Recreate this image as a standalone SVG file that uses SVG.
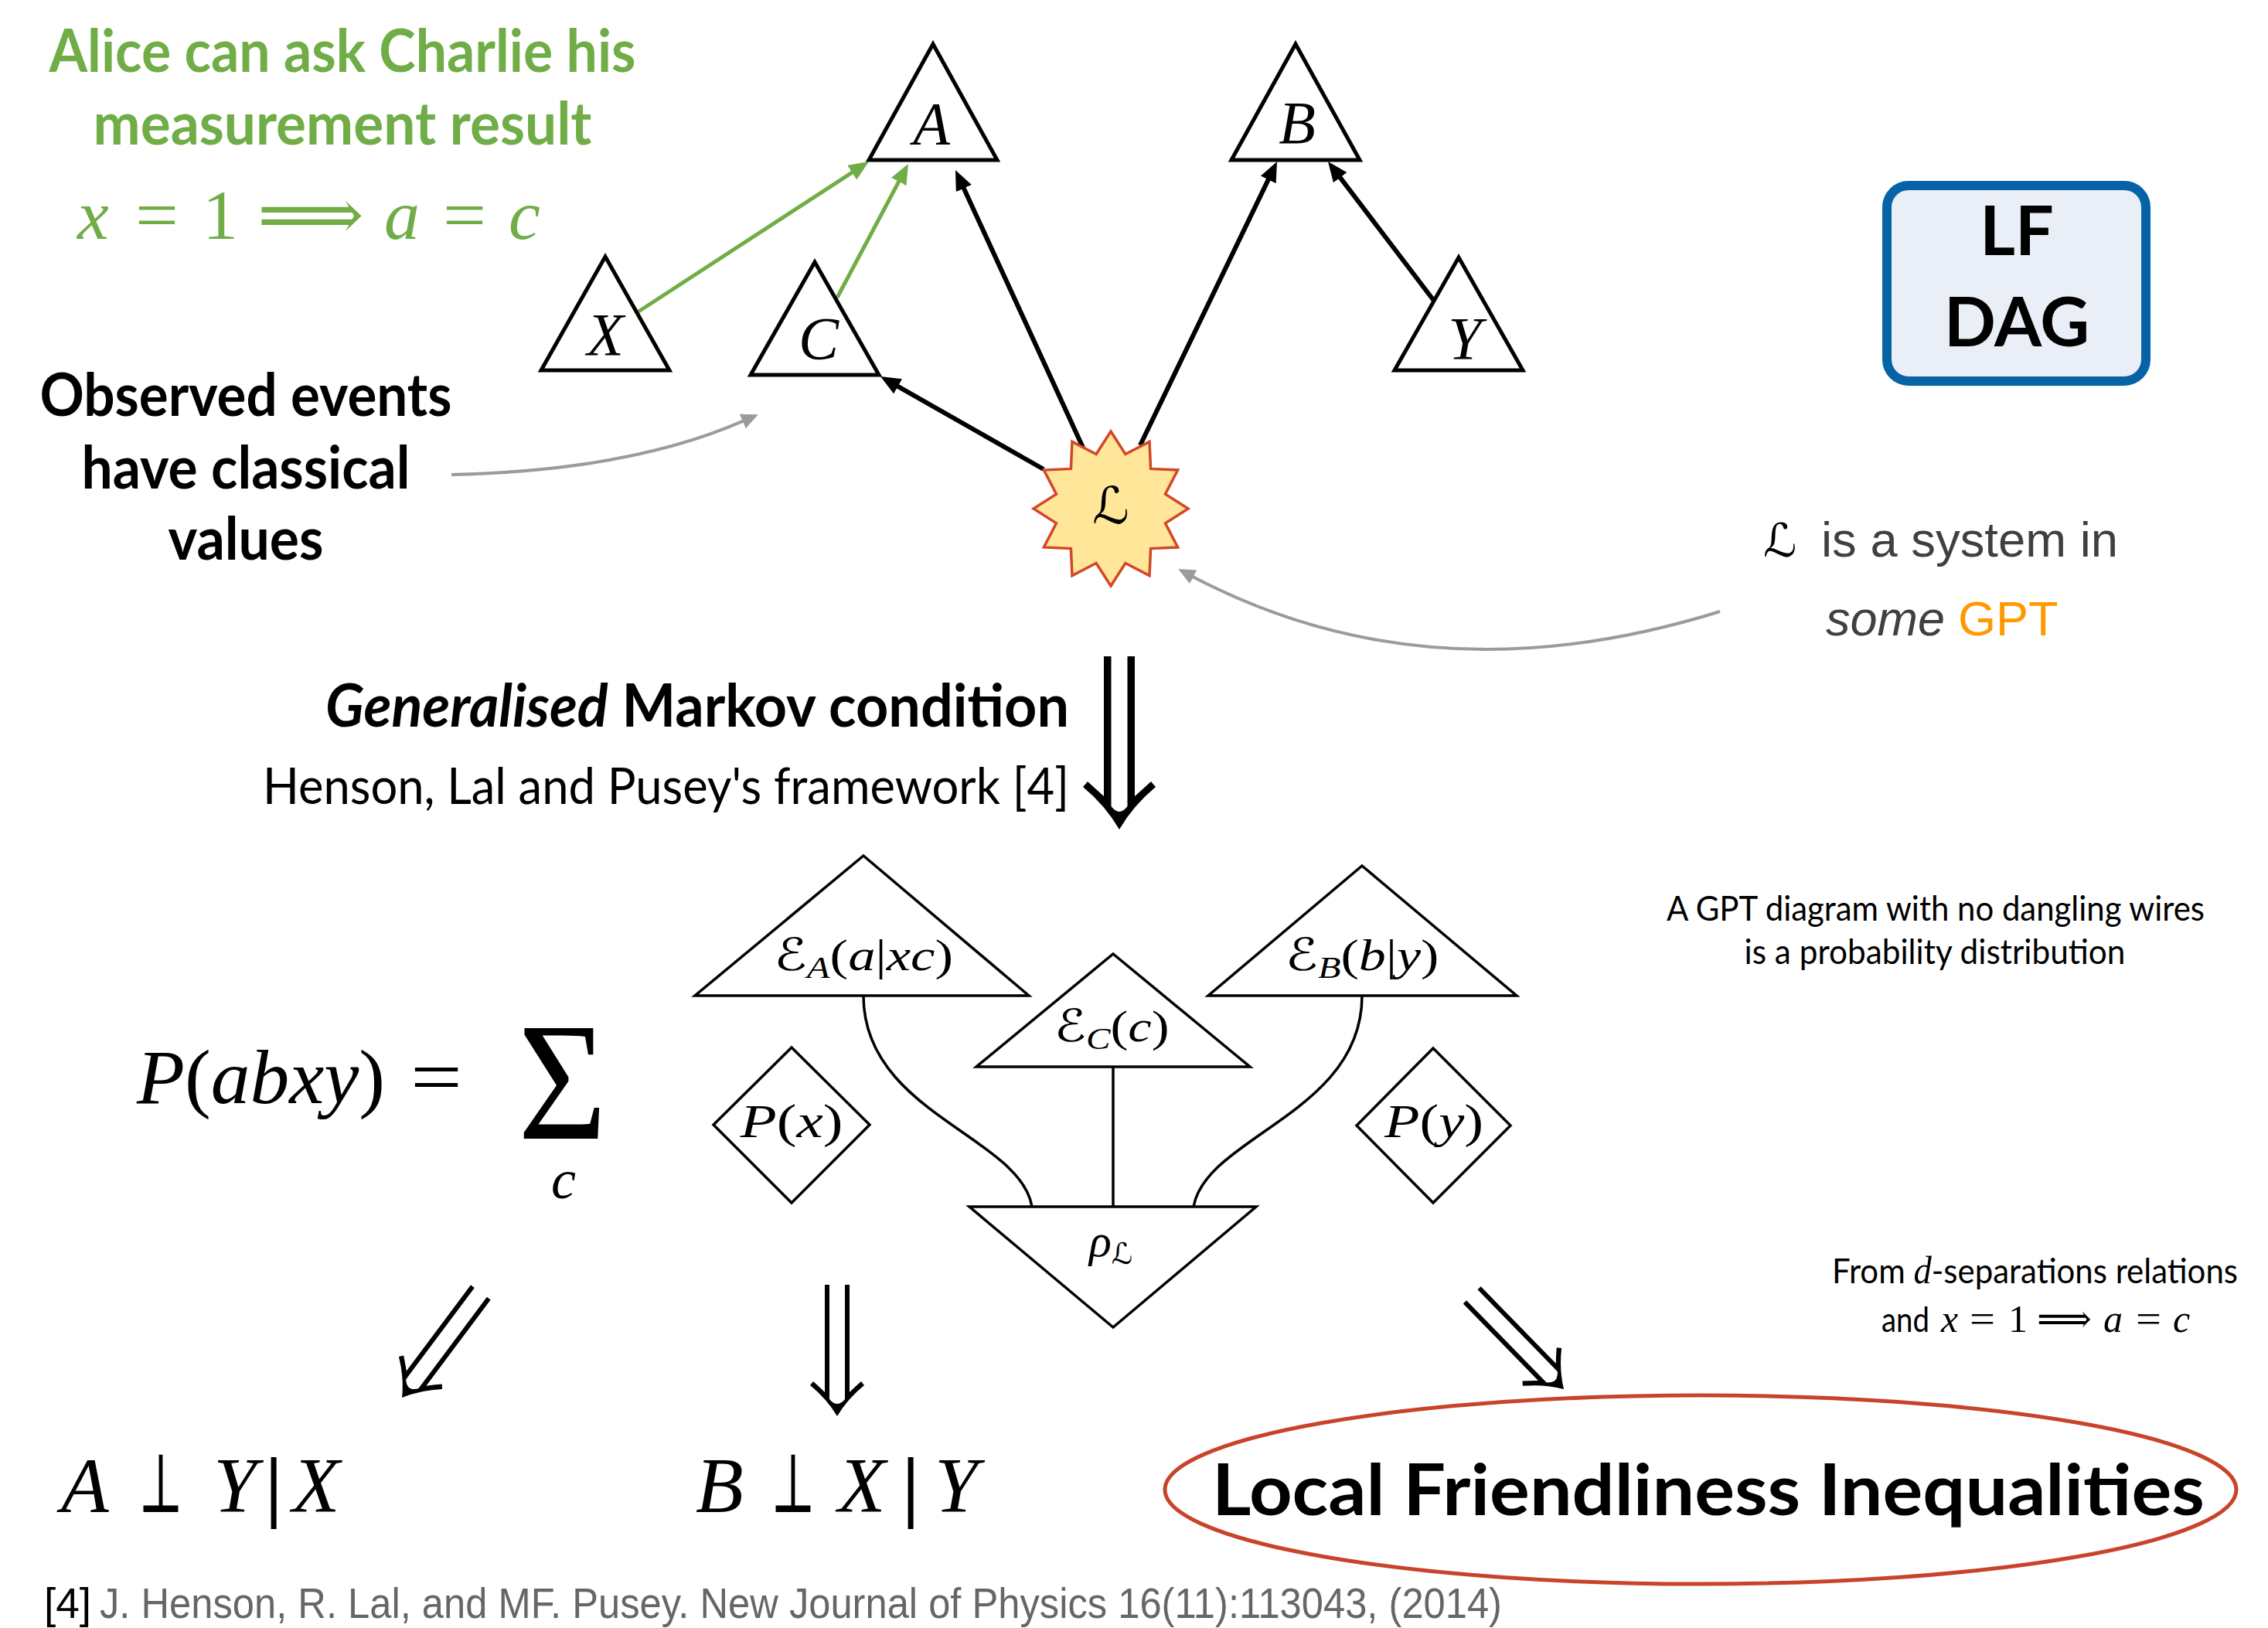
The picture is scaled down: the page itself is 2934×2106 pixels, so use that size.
<svg xmlns="http://www.w3.org/2000/svg" width="2934" height="2106" viewBox="0 0 2934 2106">
<style>
.cal{font-family:Lato,"Open Sans","Liberation Sans",sans-serif}
.b{font-weight:bold}
.gtxt{fill:#70AD47}
.ser{font-family:"Liberation Serif","DejaVu Serif",serif}
.scr{font-family:"DejaVu Serif","DejaVu Sans",serif}
.it{font-style:italic}
.tri{fill:#fff;stroke:#000;stroke-width:5;stroke-linejoin:miter}
.gpt{fill:#fff;stroke:#000;stroke-width:3.5;stroke-linejoin:miter}
.wire{fill:none;stroke:#000;stroke-width:3.5}
.blk{stroke:#000;stroke-width:6;fill:none}
.grn{stroke:#70AD47;stroke-width:5;fill:none}
.gry{stroke:#9B9B9B;stroke-width:4;fill:none}
</style>
<defs>
<marker id="mb" markerUnits="userSpaceOnUse" markerWidth="30" markerHeight="24" refX="2" refY="11" orient="auto"><path d="M0,0 L26,11 L0,22 z" fill="#000"/></marker>
<marker id="mg" markerUnits="userSpaceOnUse" markerWidth="30" markerHeight="24" refX="2" refY="11" orient="auto"><path d="M0,0 L26,11 L0,22 z" fill="#70AD47"/></marker>
<marker id="mgr" markerUnits="userSpaceOnUse" markerWidth="26" markerHeight="22" refX="2" refY="10" orient="auto"><path d="M0,0 L22,10 L0,20 z" fill="#9B9B9B"/></marker>
<path id="dblS" fill="#000" d="M0,0 Q-13,-22 -35,-40 L-31,-45 Q-22,-37 -16,-31 L-16,-170 L-10,-170 L-10,-22 Q0,-10 10,-22 L10,-170 L16,-170 L16,-31 Q22,-37 31,-45 L35,-40 Q13,-22 0,0 Z"/>
</defs>

<!-- annotations -->
<g id="alice-note">
<text class="cal b gtxt" x="443" y="93" font-size="77" text-anchor="middle" textLength="759" lengthAdjust="spacingAndGlyphs">Alice can ask Charlie his</text>
<text class="cal b gtxt" x="443" y="187" font-size="77" text-anchor="middle" textLength="645" lengthAdjust="spacingAndGlyphs">measurement result</text>
<g class="ser gtxt" font-size="92">
<text x="100" y="309" class="it">x</text>
<text x="175" y="309" textLength="56" lengthAdjust="spacingAndGlyphs">=</text>
<text x="262" y="309">1</text>
<text x="333" y="309" class="scr" textLength="138" lengthAdjust="spacingAndGlyphs">⟹</text>
<text x="497" y="309" class="it">a</text>
<text x="573" y="309" textLength="56" lengthAdjust="spacingAndGlyphs">=</text>
<text x="658" y="309" class="it">c</text>
</g>
</g>

<g id="observed-note">
<text class="cal b" x="318" y="538" font-size="77" text-anchor="middle" textLength="533" lengthAdjust="spacingAndGlyphs">Observed events</text>
<text class="cal b" x="318" y="632" font-size="77" text-anchor="middle" textLength="425" lengthAdjust="spacingAndGlyphs">have classical</text>
<text class="cal b" x="318" y="724" font-size="77" text-anchor="middle" textLength="201" lengthAdjust="spacingAndGlyphs">values</text>
</g>

<g id="lf-dag">
<rect x="2441" y="240" width="335" height="253" rx="28" fill="#E9EEF7" stroke="#0563A6" stroke-width="12"/>
<text class="cal b" x="2609" y="330" font-size="88" text-anchor="middle">LF</text>
<text class="cal b" x="2609" y="448" font-size="88" text-anchor="middle">DAG</text>
</g>

<g id="gpt-note" font-family="Liberation Sans, Arial, sans-serif" font-size="63" fill="#404040">
<text class="scr" x="2281" y="720" fill="#000" font-size="60">ℒ</text>
<text x="2356" y="720" textLength="384" lengthAdjust="spacingAndGlyphs">is a system in</text>
<text x="2362" y="822"><tspan font-style="italic">some</tspan><tspan x="2533" fill="#FF9900">GPT</tspan></text>
</g>

<!-- DAG connectors -->
<g id="connectors">
<line class="grn" x1="826" y1="403" x2="1103.9" y2="222.1" marker-end="url(#mg)"/>
<line class="grn" x1="1083" y1="385" x2="1163.7" y2="233.2" marker-end="url(#mg)"/>
<line class="blk" x1="1350" y1="607" x2="1159.9" y2="498.9" marker-end="url(#mb)"/>
<line class="blk" x1="1401" y1="579" x2="1246" y2="241.8" marker-end="url(#mb)"/>
<line class="blk" x1="1475" y1="576" x2="1641.6" y2="230.6" marker-end="url(#mb)"/>
<line class="blk" x1="1855" y1="389" x2="1732.5" y2="228.1" marker-end="url(#mb)"/>
<path class="gry" d="M584,614 Q815,609 962.5,544.2" marker-end="url(#mgr)"/>
<path class="gry" d="M2225,791 Q1850,908 1542,745.4" marker-end="url(#mgr)"/>
</g>

<!-- DAG nodes -->
<g id="node-A"><polygon class="tri" points="1207,57 1290,207 1124,207"/><text class="ser it" x="1205" y="186" font-size="78" text-anchor="middle">A</text></g>
<g id="node-B"><polygon class="tri" points="1676,57 1759,207 1593,207"/><text class="ser it" x="1678" y="185" font-size="78" text-anchor="middle">B</text></g>
<g id="node-C"><polygon class="tri" points="1054,339 1137,485 971,485"/><text class="ser it" x="1059" y="464" font-size="78" text-anchor="middle">C</text></g>
<g id="node-X"><polygon class="tri" points="783,332 866,479 700,479"/><text class="ser it" x="783" y="459" font-size="78" text-anchor="middle">X</text></g>
<g id="node-Y"><polygon class="tri" points="1887,333 1970,479 1804,479"/><text class="ser it" x="1895" y="464" font-size="78" text-anchor="middle">Y</text></g>
<g id="node-L">
<polygon fill="#FFE699" stroke="#D2472A" stroke-width="3.5" points="1437,558 1455.9,587.5 1487,571.4 1488.6,606.4 1523.6,608 1507.5,639.1 1537,658 1507.5,676.9 1523.6,708 1488.6,709.6 1487,744.6 1455.9,728.5 1437,758 1418.1,728.5 1387,744.6 1385.4,709.6 1350.4,708 1366.5,676.9 1337,658 1366.5,639.1 1350.4,608 1385.4,606.4 1387,571.4 1418.1,587.5"/>
<text class="scr" x="1437" y="677" font-size="66" text-anchor="middle">ℒ</text>
</g>

<!-- Markov arrow and text -->
<g id="markov-arrow">
<path fill="#000" d="M1448,1073 Q1430,1042 1401,1018 L1407,1011 Q1419,1022 1428,1030 L1428,849 L1437.5,849 L1437.5,1043 Q1448,1057 1458.5,1043 L1458.5,849 L1468,849 L1468,1030 Q1477,1022 1489,1011 L1495,1018 Q1466,1042 1448,1073 Z"/>
</g>
<g id="markov-text">
<text class="cal b" x="421" y="940" font-size="76" textLength="962" lengthAdjust="spacingAndGlyphs"><tspan font-style="italic">Generalised</tspan> Markov condition</text>
<text class="cal" x="1383" y="1040" font-size="66" text-anchor="end" textLength="1043" lengthAdjust="spacingAndGlyphs">Henson, Lal and Pusey's framework [4]</text>
</g>

<!-- P(abxy) formula -->
<g id="formula" class="ser">
<text x="177" y="1427" font-size="100" textLength="321" lengthAdjust="spacingAndGlyphs"><tspan class="it">P</tspan>(<tspan class="it">abxy</tspan>)</text>
<text x="531" y="1427" font-size="100" textLength="67" lengthAdjust="spacingAndGlyphs">=</text>
<text x="670" y="1473" font-size="219" textLength="115" lengthAdjust="spacingAndGlyphs">Σ</text>
<text x="713" y="1550" font-size="72" class="it">c</text>
</g>

<!-- GPT diagram wires -->
<g id="gpt-wires">
<path class="wire" d="M1117,1288 C1117,1440 1320,1470 1335,1561"/>
<path class="wire" d="M1762,1288 C1762,1440 1560,1470 1544,1561"/>
<line class="wire" x1="1440" y1="1380" x2="1440" y2="1561"/>
</g>
<g id="gpt-EA"><polygon class="gpt" points="1117,1107 1331,1288 899,1288"/>
<text class="ser" x="1117" y="1255" font-size="58" text-anchor="middle" textLength="232" lengthAdjust="spacingAndGlyphs"><tspan class="scr">ℰ</tspan><tspan class="it" font-size="40" dy="10">A</tspan><tspan dy="-10">(</tspan><tspan class="it">a</tspan>|<tspan class="it">xc</tspan>)</text></g>
<g id="gpt-EC"><polygon class="gpt" points="1440,1234 1617,1380 1263,1380"/>
<text class="ser" x="1438" y="1347" font-size="58" text-anchor="middle" textLength="149" lengthAdjust="spacingAndGlyphs"><tspan class="scr">ℰ</tspan><tspan class="it" font-size="40" dy="10">C</tspan><tspan dy="-10">(</tspan><tspan class="it">c</tspan>)</text></g>
<g id="gpt-EB"><polygon class="gpt" points="1762,1120 1962,1288 1563,1288"/>
<text class="ser" x="1762" y="1255" font-size="58" text-anchor="middle" textLength="199" lengthAdjust="spacingAndGlyphs"><tspan class="scr">ℰ</tspan><tspan class="it" font-size="40" dy="10">B</tspan><tspan dy="-10">(</tspan><tspan class="it">b</tspan>|<tspan class="it">y</tspan>)</text></g>
<g id="gpt-rho"><polygon class="gpt" points="1254,1561 1625,1561 1440,1717"/>
<text class="ser" x="1437" y="1625" font-size="60" text-anchor="middle"><tspan class="it">ρ</tspan><tspan class="scr" font-size="38" dy="10">ℒ</tspan></text></g>
<g id="gpt-Px"><polygon class="gpt" points="1024,1355 1125,1455 1024,1556 923,1455"/>
<text class="ser" x="1024" y="1471" font-size="62" text-anchor="middle" textLength="133" lengthAdjust="spacingAndGlyphs"><tspan class="it">P</tspan>(<tspan class="it">x</tspan>)</text></g>
<g id="gpt-Py"><polygon class="gpt" points="1854,1356 1954,1456 1854,1556 1755,1456"/>
<text class="ser" x="1855" y="1471" font-size="62" text-anchor="middle" textLength="128" lengthAdjust="spacingAndGlyphs"><tspan class="it">P</tspan>(<tspan class="it">y</tspan>)</text></g>

<g id="gpt-note2" class="cal" font-size="45">
<text x="2504" y="1191" text-anchor="middle" textLength="696" lengthAdjust="spacingAndGlyphs">A GPT diagram with no dangling wires</text>
<text x="2503" y="1247" text-anchor="middle" textLength="493" lengthAdjust="spacingAndGlyphs">is a probability distribution</text>
</g>

<!-- implication arrows -->
<g id="implications">
<use href="#dblS" transform="translate(520,1808) rotate(36.8)"/>
<use href="#dblS" transform="translate(1083,1832)"/>
<use href="#dblS" transform="translate(2023,1797) rotate(-44.3)"/>
</g>

<g id="dsep-note">
<text class="cal" x="2370" y="1660" font-size="45" textLength="525" lengthAdjust="spacingAndGlyphs">From <tspan class="ser it" font-size="50">d</tspan>-separations relations</text>
<text class="cal" x="2434" y="1723" font-size="45" textLength="62" lengthAdjust="spacingAndGlyphs">and</text>
<g class="ser" font-size="50">
<text x="2511" y="1723" class="it">x</text>
<text x="2548" y="1723" textLength="33" lengthAdjust="spacingAndGlyphs">=</text>
<text x="2598" y="1723">1</text>
<text x="2635" y="1723" class="scr" textLength="71" lengthAdjust="spacingAndGlyphs">⟹</text>
<text x="2721" y="1723" class="it">a</text>
<text x="2763" y="1723" textLength="33" lengthAdjust="spacingAndGlyphs">=</text>
<text x="2811" y="1723" class="it">c</text>
</g>
</g>

<g id="indep-A" class="ser" font-size="101">
<text x="79" y="1956" class="it">A</text>
<text x="179" y="1956" class="scr" font-size="108" textLength="58" lengthAdjust="spacingAndGlyphs">⊥</text>
<text x="276" y="1956" class="it">Y</text>
<text x="343" y="1956" font-weight="bold">|</text>
<text x="378" y="1956" class="it">X</text>
</g>
<g id="indep-B" class="ser" font-size="101">
<text x="900" y="1956" class="it">B</text>
<text x="997" y="1956" class="scr" font-size="108" textLength="58" lengthAdjust="spacingAndGlyphs">⊥</text>
<text x="1084" y="1956" class="it">X</text>
<text x="1167" y="1956" font-weight="bold">|</text>
<text x="1209" y="1956" class="it">Y</text>
</g>

<g id="lf-ineq">
<ellipse cx="2200" cy="1927" rx="693" ry="122" fill="none" stroke="#C9432A" stroke-width="5"/>
<text class="cal b" x="1568" y="1960" font-size="92" textLength="1284" lengthAdjust="spacingAndGlyphs">Local Friendliness Inequalities</text>
</g>

<g id="reference" font-family="Liberation Sans, Arial, sans-serif" font-size="55">
<text x="57" y="2093" fill="#000">[4]</text>
<text x="129" y="2093" fill="#666" textLength="1814" lengthAdjust="spacingAndGlyphs">J. Henson, R. Lal, and MF. Pusey. New Journal of Physics 16(11):113043, (2014)</text>
</g>
</svg>
